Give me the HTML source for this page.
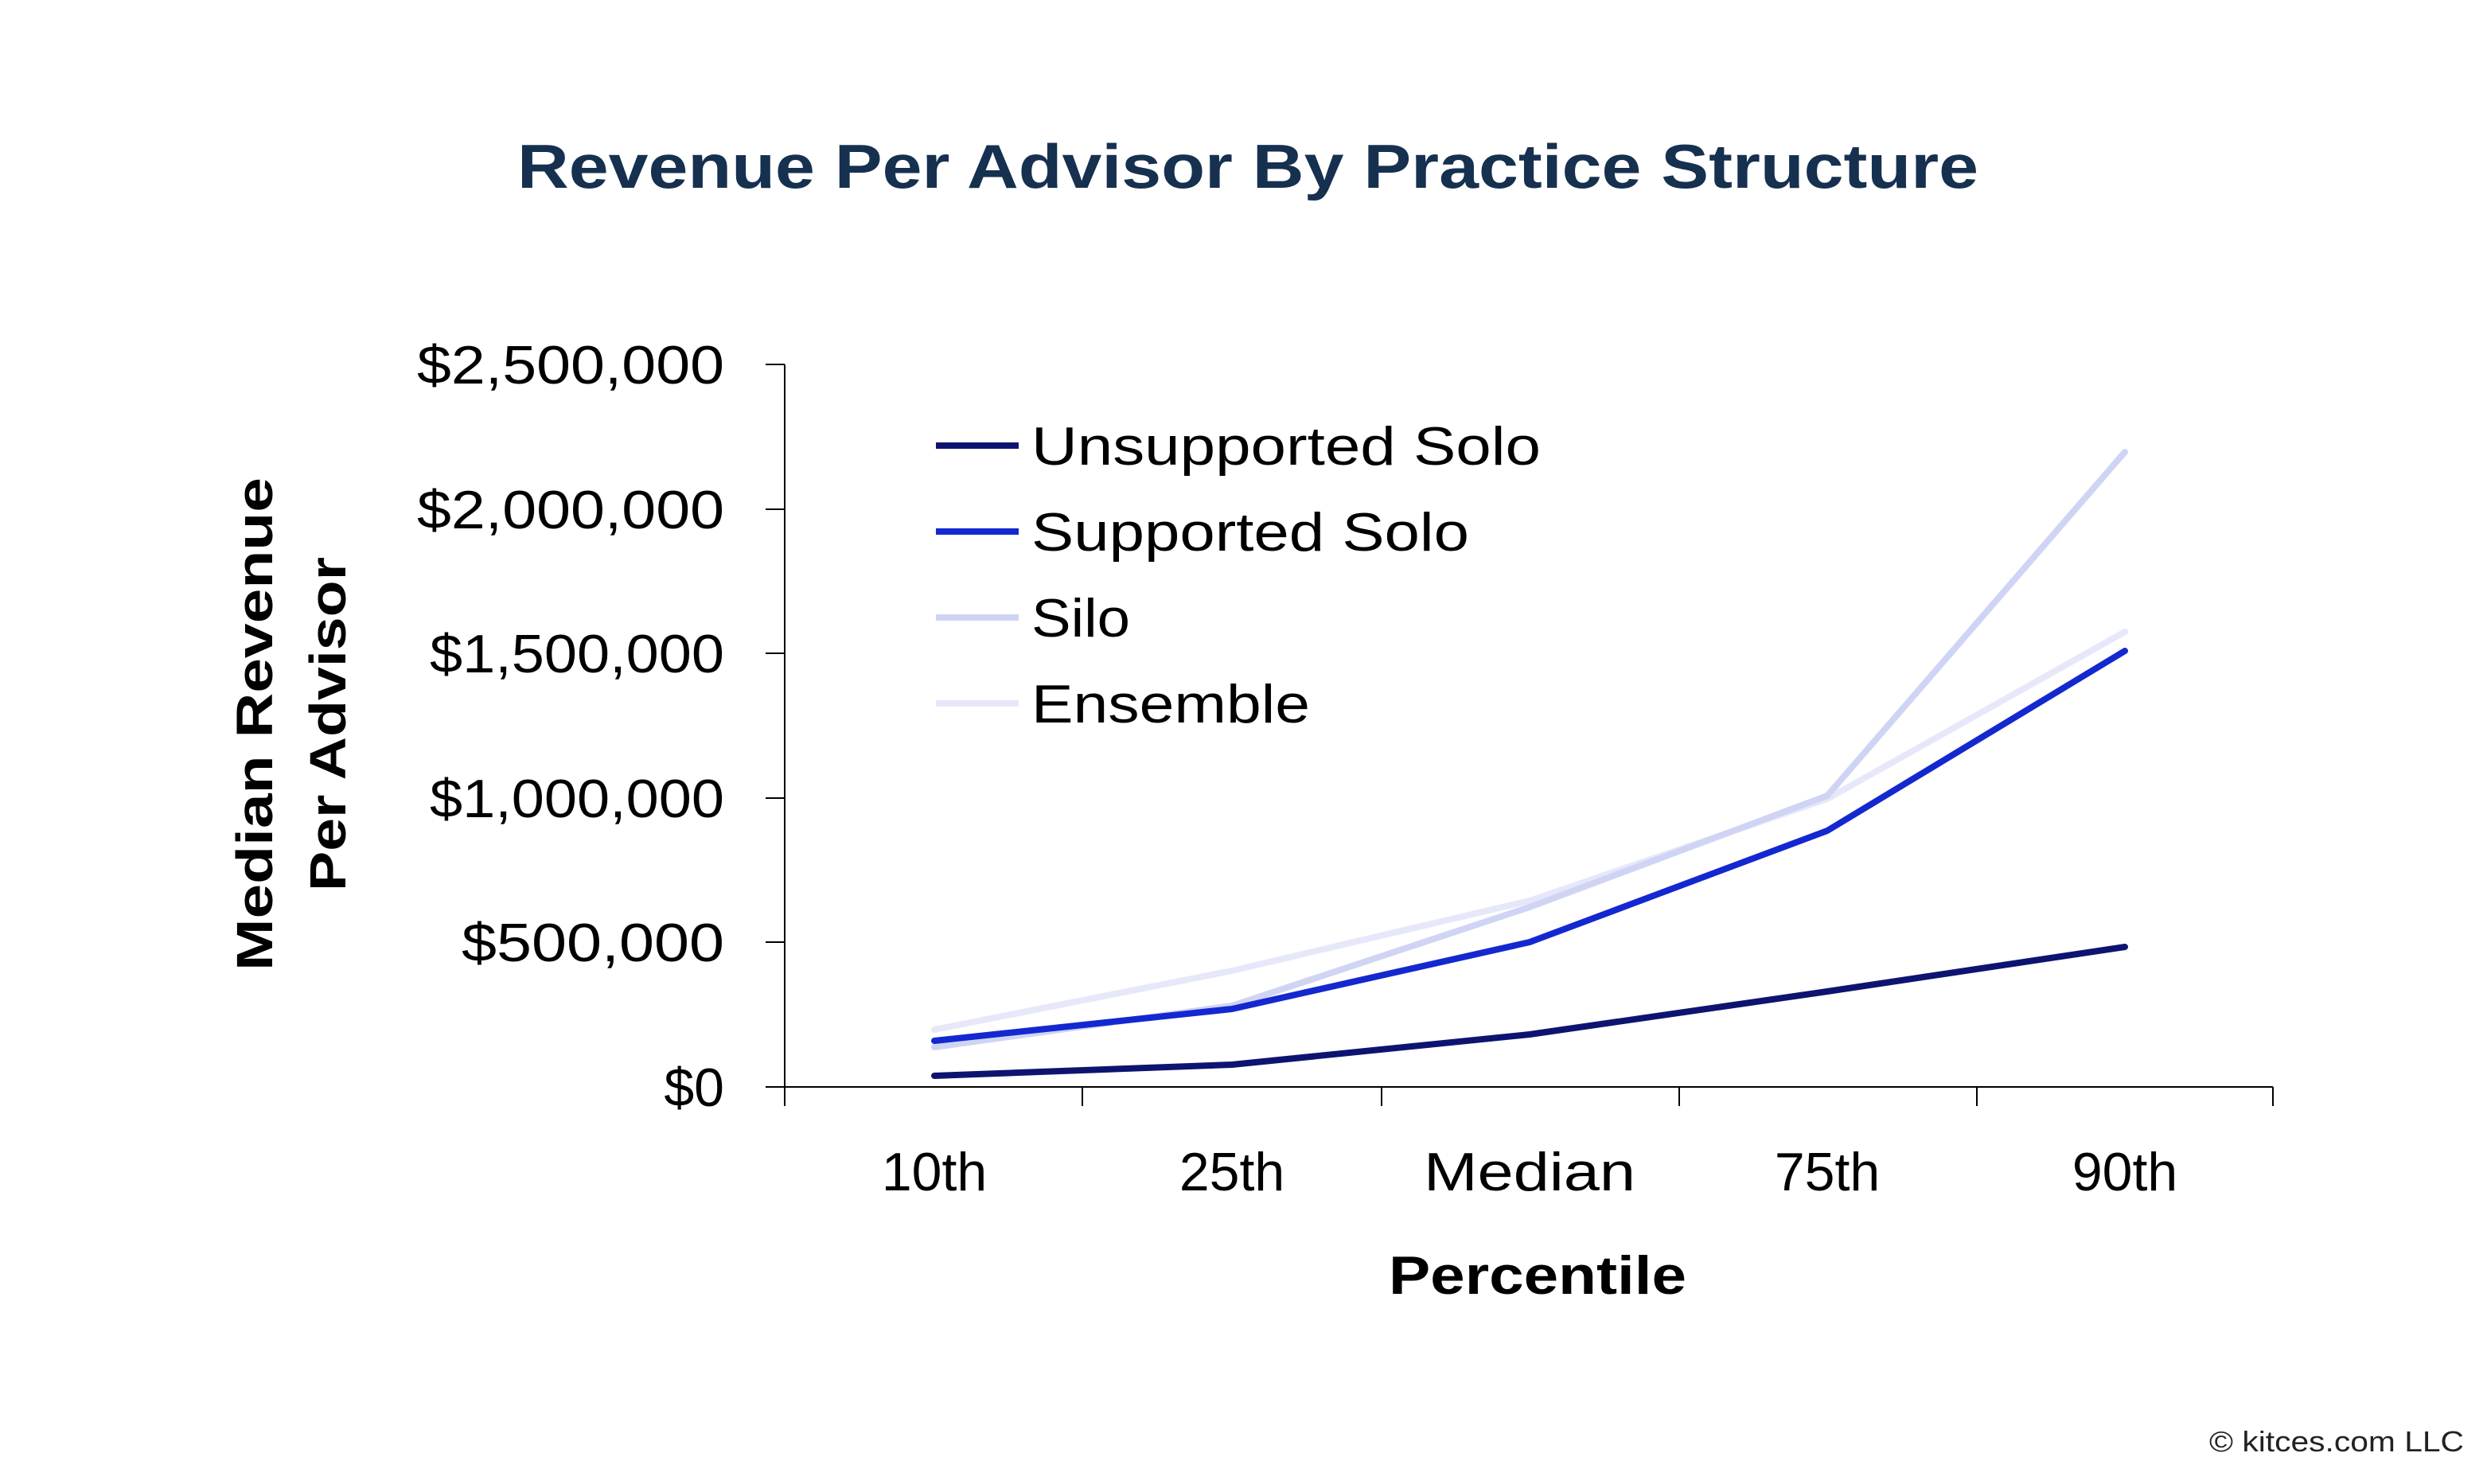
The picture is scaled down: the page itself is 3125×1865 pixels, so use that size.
<!DOCTYPE html>
<html><head><meta charset="utf-8"><style>
html,body{margin:0;padding:0;background:#fff;}
svg{display:block;}
text{font-family:"Liberation Sans",sans-serif;}
</style></head><body>
<svg width="3125" height="1865" viewBox="0 0 3125 1865" xmlns="http://www.w3.org/2000/svg">
<rect width="3125" height="1865" fill="#fff"/>
<text x="1568" y="236" text-anchor="middle" font-size="78" font-weight="bold" fill="#16304f" textLength="1836" lengthAdjust="spacingAndGlyphs">Revenue Per Advisor By Practice Structure</text>
<g stroke="#000" stroke-width="2" fill="none">
<line x1="986" y1="458" x2="986" y2="1390"/>
<line x1="962" y1="1366" x2="2856" y2="1366"/>
<line x1="962" y1="458" x2="986" y2="458"/>
<line x1="962" y1="640" x2="986" y2="640"/>
<line x1="962" y1="821" x2="986" y2="821"/>
<line x1="962" y1="1003" x2="986" y2="1003"/>
<line x1="962" y1="1184" x2="986" y2="1184"/>
<line x1="1360" y1="1366" x2="1360" y2="1390"/>
<line x1="1736" y1="1366" x2="1736" y2="1390"/>
<line x1="2110" y1="1366" x2="2110" y2="1390"/>
<line x1="2484" y1="1366" x2="2484" y2="1390"/>
<line x1="2856" y1="1366" x2="2856" y2="1390"/>
</g>
<g font-size="68" fill="#000" text-anchor="end">
<text x="910" y="482" textLength="386" lengthAdjust="spacingAndGlyphs">$2,500,000</text>
<text x="910" y="664" textLength="386" lengthAdjust="spacingAndGlyphs">$2,000,000</text>
<text x="910" y="845" textLength="370" lengthAdjust="spacingAndGlyphs">$1,500,000</text>
<text x="910" y="1027" textLength="370" lengthAdjust="spacingAndGlyphs">$1,000,000</text>
<text x="910" y="1208" textLength="330" lengthAdjust="spacingAndGlyphs">$500,000</text>
<text x="910" y="1390">$0</text>
</g>
<g font-size="68" fill="#000" text-anchor="middle">
<text x="1174" y="1496">10th</text>
<text x="1548" y="1496">25th</text>
<text x="1922" y="1496" textLength="266" lengthAdjust="spacingAndGlyphs">Median</text>
<text x="2296" y="1496">75th</text>
<text x="2670" y="1496">90th</text>
</g>
<text x="1932" y="1626" text-anchor="middle" font-size="68" font-weight="bold" fill="#000" textLength="374" lengthAdjust="spacingAndGlyphs">Percentile</text>
<g transform="translate(342,910) rotate(-90)" font-size="64" font-weight="bold" fill="#000" text-anchor="middle">
<text x="0" y="0" textLength="620" lengthAdjust="spacingAndGlyphs">Median Revenue</text>
<text x="0" y="92" textLength="420" lengthAdjust="spacingAndGlyphs">Per Advisor</text>
</g>
<g fill="none" stroke-width="8" stroke-linejoin="round" stroke-linecap="round">
<polyline stroke="#e6e8fa" points="1174,1294 1548,1220 1922,1132 2296,1004 2670,794"/>
<polyline stroke="#d0d4f4" points="1174,1316 1548,1264 1922,1140 2296,1000 2670,568"/>
<polyline stroke="#1428d0" points="1174,1308 1548,1268 1922,1184 2296,1044 2670,818"/>
<polyline stroke="#0d1470" points="1174,1352 1548,1338 1922,1300 2296,1246 2670,1190"/>
</g>
<g stroke-width="8">
<line x1="1176" y1="560" x2="1280" y2="560" stroke="#0d1470"/>
<line x1="1176" y1="668" x2="1280" y2="668" stroke="#1428d0"/>
<line x1="1176" y1="776" x2="1280" y2="776" stroke="#d0d4f4"/>
<line x1="1176" y1="884" x2="1280" y2="884" stroke="#e6e8fa"/>
</g>
<g font-size="68" fill="#000">
<text x="1296" y="584" textLength="640" lengthAdjust="spacingAndGlyphs">Unsupported Solo</text>
<text x="1296" y="692" textLength="550" lengthAdjust="spacingAndGlyphs">Supported Solo</text>
<text x="1296" y="800" textLength="124" lengthAdjust="spacingAndGlyphs">Silo</text>
<text x="1296" y="908" textLength="350" lengthAdjust="spacingAndGlyphs">Ensemble</text>
</g>
<text x="3096" y="1824" text-anchor="end" font-size="36" fill="#222" textLength="320" lengthAdjust="spacingAndGlyphs">© kitces.com LLC</text>
</svg>
</body></html>
